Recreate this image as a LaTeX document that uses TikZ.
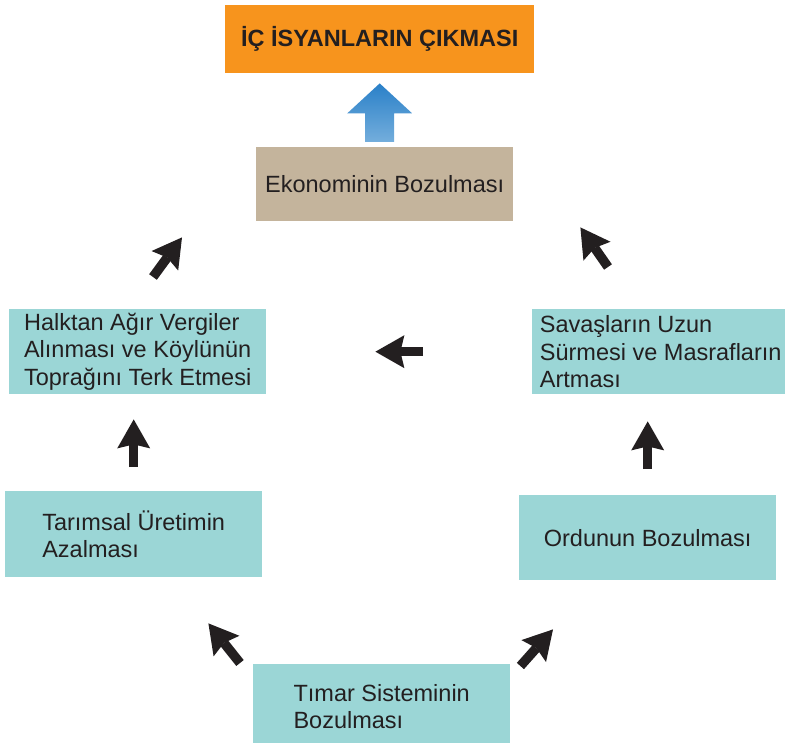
\documentclass[tikz,border=0pt]{standalone}
\usepackage{fontspec}
\setmainfont{Liberation Sans}
\usepackage{tikz}
\usepackage{xcolor}
\usetikzlibrary{calc,arrows.meta}
\definecolor{titlecolore}{HTML}{F7941D}
\definecolor{causecolore}{HTML}{9BD6D6}
\definecolor{econcolore}{HTML}{C4B49C}
\definecolor{inkcolore}{HTML}{231F20}
\definecolor{bluetop}{HTML}{2A80C8}
\definecolor{bluebottom}{HTML}{74AEDC}
\newcommand{\boxfont}{\fontsize{23.5pt}{27.5pt}\selectfont}
\tikzstyle{causebox} = [
    rectangle,
    fill=causecolore,
    text=inkcolore,
    font=\boxfont,
    align=left,
    anchor=north west,
    inner sep=0pt,
    minimum width=257pt,
    minimum height=85pt
    ]
\tikzstyle{titlebox} = [
    causebox,
    fill=titlecolore,
    font=\boxfont\bfseries,
    minimum width=309pt,
    minimum height=68pt
    ]
\tikzstyle{fatarrow} = [
    draw=inkcolore,
    line width=9.5pt,
    -{Stealth[length=29pt,width=33pt,inset=4pt,line width=0pt]}
    ]

\begin{document}
\begin{tikzpicture}[x=1pt,y=-1pt]
\useasboundingbox (0,0) rectangle (785,743);

\node[titlebox] (isyan) at (225,5) {İÇ İSYANLARIN ÇIKMASI};
\node[causebox, fill=econcolore, minimum height=74pt] (eko) at (256,147) {Ekonominin Bozulması};
\node[causebox] (halk) at (9,309) {Halktan Ağır Vergiler\\Alınması ve Köylünün\\Toprağını Terk Etmesi};
\node[causebox] (savas) at (532,309) {Savaşların Uzun\\Sürmesi ve Masrafların\\Artması};
\node[causebox, minimum height=86pt] (tarim) at (5,491) {Tarımsal Üretimin\\Azalması};
\node[causebox] (ordu) at (519,495) {Ordunun Bozulması};
\node[causebox] (timar) at (253,664) {Tımar Sisteminin\\Bozulması};

% big blue arrow
\shade[top color=bluetop, bottom color=bluebottom]
    ($(isyan.south)+(0,10)$) -- ($(isyan.south)+(32.5,40)$) -- ($(isyan.south)+(14.5,40)$)
    -- ($(isyan.south |- eko.north)+(14.5,-5)$) -- ($(isyan.south |- eko.north)+(-14.5,-5)$)
    -- ($(isyan.south)+(-14.5,40)$) -- ($(isyan.south)+(-32.5,40)$) -- cycle;

\draw[fatarrow] ($(timar.north west)+(-13,-1)$) -- ($(tarim.south east)+(-54,46)$);
\draw[fatarrow] ($(timar.north east)+(10,2)$) -- ($(ordu.south west)+(34,49)$);
\draw[fatarrow, shorten <=24pt, shorten >=25pt] (tarim.north) -- (tarim.north |- halk.south);
\draw[fatarrow, shorten <=26pt, shorten >=27pt] (ordu.north) -- (ordu.north |- savas.south);
\draw[fatarrow, shorten <=109pt, shorten >=109pt] (savas.west) -- (halk.east);
\draw[fatarrow] ($(halk.north west)+(144,-32)$) -- ($(eko.south west)+(-74,16)$);
\draw[fatarrow] ($(savas.north west)+(76,-42)$) -- ($(eko.south east)+(67,6)$);
\end{tikzpicture}
\end{document}
